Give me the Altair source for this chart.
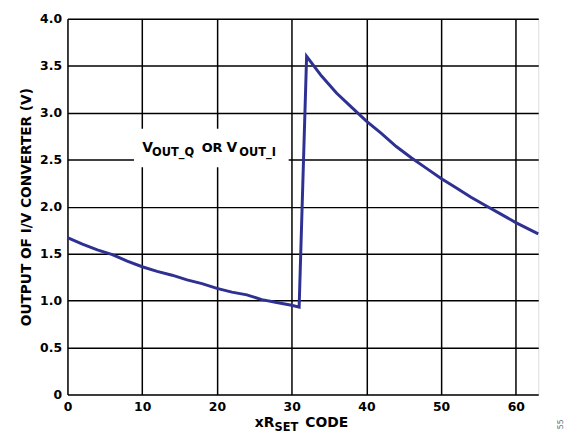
import altair as alt
import pandas as pd

# ---- data ----
codes = [0, 2, 4, 6, 8, 10, 12, 14, 16, 18, 20, 22, 24, 26, 28, 30, 31,
         32, 34, 36, 38, 40, 42, 44, 46, 48, 50, 52, 54, 56, 58, 60, 62, 63]
vout = [1.67, 1.60, 1.54, 1.49, 1.42, 1.36, 1.31, 1.27, 1.22, 1.18, 1.13, 1.09, 1.06, 1.01, 0.98, 0.95, 0.93,
        3.60, 3.39, 3.21, 3.06, 2.91, 2.78, 2.64, 2.52, 2.41, 2.30, 2.20, 2.10, 2.01, 1.92, 1.83, 1.75, 1.71]

x_ticks = [0, 10, 20, 30, 40, 50, 60]
y_ticks = [0, 0.5, 1.0, 1.5, 2.0, 2.5, 3.0, 3.5, 4.0]

# annotation (in-plot label with white background)
box_x = [8.9]
box_x2 = [29.6]
box_y = [2.42]
box_y2 = [2.83]
label_code = [10]
label_volt = [2.58]
label_parts = ["V", "OUT_Q", "OR", "V", "OUT_I"]
label_dx = [0, 10, 60, 85, 98]
label_dy = [0, 4, 0, 0, 4]
label_size = [14, 11.5, 13, 14, 11.5]

# x-axis title with subscript
xt_parts = ["xR", "SET", "CODE"]
xt_x = [189, 209, 240]
xt_y = [412, 415.5, 412]
xt_size = [14, 11.5, 14]

FONT = "DejaVu Sans"
BLUE = "#2E3192"

df = pd.DataFrame({"code": codes, "v": vout})

xscale = alt.Scale(domain=[0, 63], nice=False, zero=False)
yscale = alt.Scale(domain=[0, 4.0], nice=False)

line = alt.Chart(df).mark_line(color=BLUE, strokeWidth=3, strokeJoin="miter").encode(
    x=alt.X("code:Q", scale=xscale,
            axis=alt.Axis(values=x_ticks, title=None, grid=True, gridColor="black",
                          gridWidth=1.5, gridOpacity=1, ticks=False, domain=False,
                          labelFont=FONT, labelFontWeight="bold", labelFontSize=12.5,
                          labelColor="black", labelPadding=6, labelFlush=False)),
    y=alt.Y("v:Q", scale=yscale,
            axis=alt.Axis(values=y_ticks, title="OUTPUT OF I/V CONVERTER (V)",
                          grid=True, gridColor="black", gridWidth=1.5, gridOpacity=1,
                          ticks=False, domain=False,
                          labelExpr="datum.value == 0 ? '0' : format(datum.value, '.1f')",
                          labelFont=FONT, labelFontWeight="bold", labelFontSize=12.5,
                          labelColor="black", labelPadding=6,
                          titleFont=FONT, titleFontWeight="bold", titleFontSize=13.8,
                          titleColor="black", titlePadding=6)),
)

box = alt.Chart(pd.DataFrame({"x": box_x, "x2": box_x2, "y": box_y, "y2": box_y2})).mark_rect(
    color="white").encode(
    x=alt.X("x:Q", scale=xscale), x2="x2:Q",
    y=alt.Y("y:Q", scale=yscale), y2="y2:Q")

layers = [line, box]
lab_df = pd.DataFrame({"code": label_code, "v": label_volt})
for t, dx, dy, fs in zip(label_parts, label_dx, label_dy, label_size):
    layers.append(
        alt.Chart(lab_df).mark_text(text=t, dx=dx, dy=dy, fontSize=fs, font=FONT,
                                    fontWeight="bold", color="black", align="left",
                                    baseline="alphabetic").encode(
            x=alt.X("code:Q", scale=xscale), y=alt.Y("v:Q", scale=yscale)))

for t, px, py, fs in zip(xt_parts, xt_x, xt_y, xt_size):
    layers.append(
        alt.Chart(lab_df).mark_text(text=t, fontSize=fs, font=FONT, fontWeight="bold",
                                    color="black", align="left", baseline="alphabetic").encode(
            x=alt.value(px), y=alt.value(py)))

layers.append(
    alt.Chart(lab_df).mark_text(text="55", fontSize=8, font=FONT, color="#666666",
                                angle=270, align="center", baseline="middle").encode(
        x=alt.value(498), y=alt.value(409)))

chart = alt.layer(*layers).properties(
    width=475, height=379,
    autosize=alt.AutoSizeParams(type="none"),
    padding={"left": 60, "top": 9, "right": 30, "bottom": 39},
).configure_view(stroke="black", strokeWidth=2.2).configure(background="white")

chart.save("out.html", embed_options={"renderer": "svg", "actions": False})
